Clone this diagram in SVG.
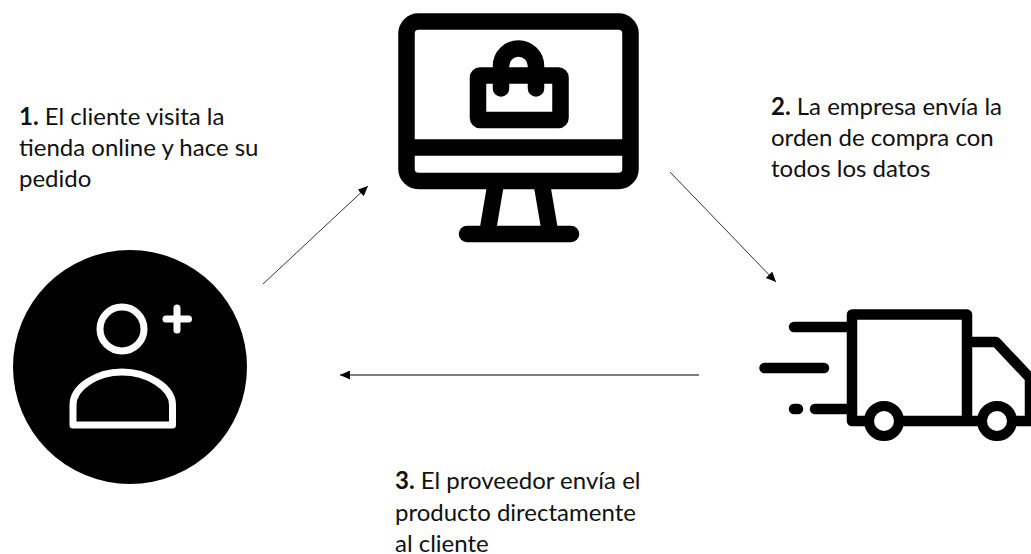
<svg xmlns="http://www.w3.org/2000/svg" width="1031" height="554" viewBox="0 0 1031 554">
<style>
.t{font-family:"Lato","Open Sans","Liberation Sans",sans-serif;font-size:24px;fill:#111}
.b{font-weight:700}
.k{fill:none;stroke:#000;stroke-linecap:round;stroke-linejoin:round}
.m{stroke-width:16.5}
.r{stroke-width:10.5}
.w{fill:none;stroke:#fff;stroke-width:7;stroke-linecap:round;stroke-linejoin:round}
.c{fill:none;stroke:#333;stroke-width:1;marker-end:url(#a)}
</style>
<defs>
<marker id="a" markerUnits="userSpaceOnUse" markerWidth="11" markerHeight="9" refX="10" refY="4.5" orient="auto">
<path d="M0 0L10 4.5L0 9Z" fill="#000"/>
</marker>
</defs>
<rect width="1031" height="554" fill="#fff"/>
<g id="connectors">
<path class="c" d="M263 284L368 186"/>
<path class="c" d="M670 172L776 282"/>
<path class="c" style="stroke:#000" d="M699 375H340"/>
</g>
<g id="monitor">
<rect class="k m" x="406.500" y="21.500" width="224" height="159.500" rx="12"/>
<path class="k m" style="stroke-linecap:butt" d="M406.500 147.500H630.500M495.500 185L487.500 232M542 185L550 232"/>
<path class="k m" d="M467 234H571"/>
<rect class="k m" x="478" y="75.500" width="82.500" height="44.500" rx="2"/>
<path class="k m" d="M501 88.500V66A17.500 17.500 0 0 1 536 66V88.500"/>
</g>
<g id="truck">
<path class="k r" d="M852 421V314.500H967V421M852 421H1031M794 327H852M764.500 368H824M794 409H798M815 409H852M967 342H996L1030 378V421"/>
<circle cx="884" cy="421" r="15" fill="#fff" stroke="#000" stroke-width="10"/>
<circle cx="997" cy="421" r="15" fill="#fff" stroke="#000" stroke-width="10"/>
</g>
<g id="customer">
<circle cx="130" cy="367" r="117" fill="#000"/>
<circle class="w" cx="122" cy="329" r="22"/>
<path class="w" d="M166 319H188.500M177 308V330"/>
<path class="w" d="M73 425V405C73 387 97 372 122 372S172.500 387 172.500 405V425Z"/>
</g>
<g id="label-1">
<text class="t" x="19" y="125"><tspan class="b">1.</tspan> El cliente visita la</text>
<text class="t" x="19" y="156">tienda online y hace su</text>
<text class="t" x="19" y="187">pedido</text>
</g>
<g id="label-2">
<text class="t" x="771" y="115"><tspan class="b">2.</tspan> La empresa envía la</text>
<text class="t" x="771" y="146">orden de compra con</text>
<text class="t" x="771" y="177">todos los datos</text>
</g>
<g id="label-3">
<text class="t" x="395" y="489"><tspan class="b">3.</tspan> El proveedor envía el</text>
<text class="t" x="395" y="520.500">producto directamente</text>
<text class="t" x="395" y="551.500">al cliente</text>
</g>
</svg>
